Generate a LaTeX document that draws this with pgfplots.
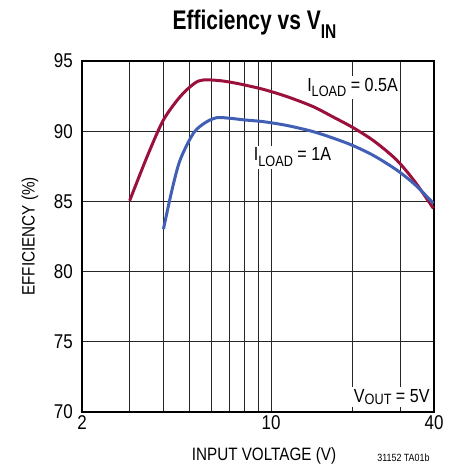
\documentclass[border=0pt]{standalone}
\usepackage{pgfplots}
\pgfplotsset{compat=1.18}
\usepackage{fontspec}
\setmainfont{Liberation Sans}[FakeStretch=0.85]
\newfontfamily\titlefont{Liberation Sans}[FakeStretch=0.78]
\definecolor{redline}{RGB}{155,17,60}
\definecolor{blueline}{RGB}{65,95,180}
\begin{document}
\begin{tikzpicture}
\useasboundingbox (-82bp,-53bp) rectangle (374bp,412bp);
\begin{axis}[
  at={(0,0)}, anchor=south west,
  scale only axis, width=352bp, height=351bp,
  xmode=log, xmin=2, xmax=40, ymin=70, ymax=95,
  xtick={2,10,40}, xticklabels={2,10,40},
  minor xtick={3,4,5,6,7,8,9,20,30},
  ytick={70,75,80,85,90,95},
  xmajorgrids, xminorgrids, ymajorgrids,
  major tick length=0pt, minor tick length=0pt,
  grid style={black!85, line width=0.9bp},
  minor grid style={black!85, line width=0.9bp},
  axis line style={black, line width=1.4bp},
  /pgf/number format/assume math mode=true,
  ticklabel style={font=\fontsize{20}{22}\selectfont},
  yticklabel style={anchor=east, inner sep=0pt, xshift=-9bp},
  xticklabel style={anchor=north, inner sep=0pt, yshift=-3bp},
  log basis x=10,
  clip=false,
]
\addplot[redline, line width=3bp, smooth] coordinates {
(3,85.05) (3.5,88.3) (4,90.8) (4.61,92.46) (5.2,93.4) (5.62,93.65) (6.47,93.6) (7.5,93.4) (9.36,92.98) (11.5,92.45) (14.3,91.75) (17,91.0) (20.1,90.25) (24,89.3) (29.1,87.95) (34,86.4) (39.8,84.5)
};
\addplot[blueline, line width=3bp, smooth] coordinates {
(4,83.03) (4.3,85.8) (4.61,87.95) (5.16,89.85) (5.7,90.6) (6.29,90.96) (7.05,90.92) (8,90.8) (9.36,90.68) (11.5,90.4) (14.3,89.97) (17,89.5) (20.1,88.97) (24,88.25) (29.1,87.24) (34,86.2) (39.8,84.86)
};
\node[fill=white, inner sep=2bp, anchor=base west, font=\fontsize{19}{21}\selectfont] at (axis cs:13.35,92.86) {I\raisebox{-0.3em}{\fontsize{15}{17}\selectfont LOAD} = 0.5A};
\node[fill=white, inner sep=2bp, anchor=base west, font=\fontsize{19}{21}\selectfont] at (axis cs:8.48,87.88) {I\raisebox{-0.3em}{\fontsize{15}{17}\selectfont LOAD} = 1A};
\node[fill=white, inner sep=2bp, anchor=base west, font=\fontsize{19}{21}\selectfont] at (axis cs:19.87,70.71) {V\raisebox{-0.15em}{\fontsize{15}{17}\selectfont OUT} = 5V};
\end{axis}
\node[anchor=base, font=\titlefont\bfseries\fontsize{27}{30}\selectfont] at (172.5bp,382bp) {Efficiency vs V\raisebox{-0.3em}{\fontsize{20}{22}\selectfont IN}};
\node[rotate=90, font=\fontsize{18}{20}\selectfont] at (-52bp,175.5bp) {EFFICIENCY (\%)};
\node[anchor=base, font=\fontsize{18}{20}\selectfont] at (182bp,-48.5bp) {INPUT VOLTAGE (V)};
\node[anchor=base east, font=\fontsize{10.5}{12}\selectfont] at (351bp,-49bp) {31152 TA01b};
\end{tikzpicture}
\end{document}
